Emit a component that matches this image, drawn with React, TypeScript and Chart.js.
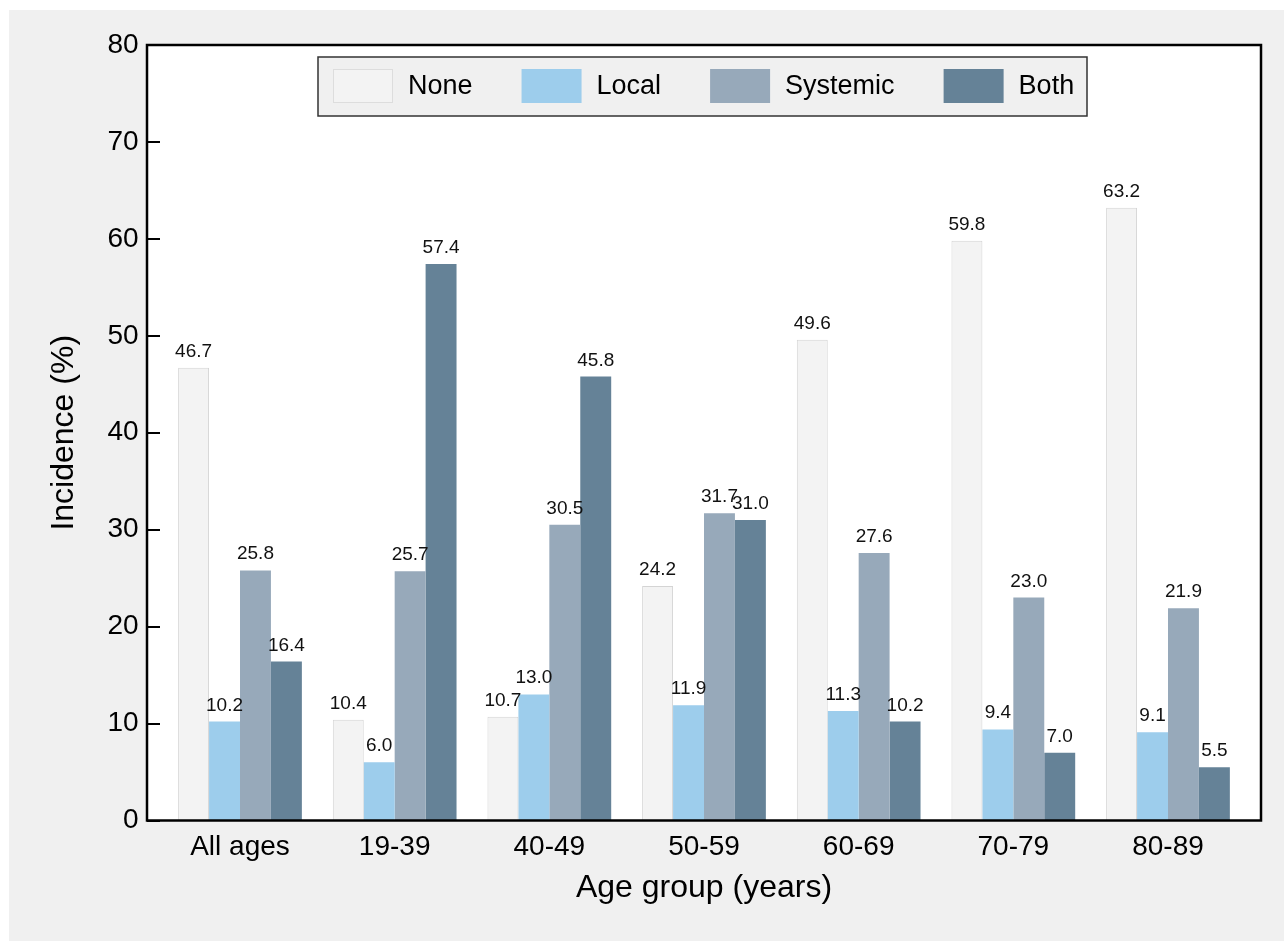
import React, { useEffect, useRef } from "react";
import { Chart, registerables } from "chart.js";

Chart.register(...registerables);

const categories = ["All ages", "19-39", "40-49", "50-59", "60-69", "70-79", "80-89"];
const seriesNames = ["None", "Local", "Systemic", "Both"];
const noneValues = [46.7, 10.4, 10.7, 24.2, 49.6, 59.8, 63.2];
const localValues = [10.2, 6.0, 13.0, 11.9, 11.3, 9.4, 9.1];
const systemicValues = [25.8, 25.7, 30.5, 31.7, 27.6, 23.0, 21.9];
const bothValues = [16.4, 57.4, 45.8, 31.0, 10.2, 7.0, 5.5];
const yTickValues = [0, 10, 20, 30, 40, 50, 60, 70, 80];
const seriesColors = ["#f3f3f3", "#9dcdec", "#97a9ba", "#658297"];
const seriesBorders = ["#d4d4d4", "#9dcdec", "#97a9ba", "#658297"];

const FONT = "'Liberation Sans', Arial, sans-serif";
const FRAME_PAD = 15.67;

const framePlugin = {
  id: "framePlugin",
  beforeDraw(chart: any) {
    const { ctx, chartArea } = chart;
    ctx.save();
    ctx.fillStyle = "#f0f0f0";
    ctx.fillRect(0, 0, chart.width, chart.height);
    ctx.fillStyle = "#ffffff";
    ctx.fillRect(
      chartArea.left - FRAME_PAD,
      chartArea.top,
      chartArea.right - chartArea.left + 2 * FRAME_PAD,
      chartArea.bottom - chartArea.top
    );
    ctx.restore();
  },
  afterDatasetsDraw(chart: any) {
    const { ctx, chartArea } = chart;
    ctx.save();
    // data labels
    ctx.font = `19px ${FONT}`;
    ctx.fillStyle = "#111";
    ctx.textAlign = "center";
    ctx.textBaseline = "alphabetic";
    chart.data.datasets.forEach((ds: any, di: number) => {
      const meta = chart.getDatasetMeta(di);
      meta.data.forEach((bar: any, i: number) => {
        const v = ds.data[i];
        ctx.fillText(Number(v).toFixed(1), bar.x, bar.y - 11);
      });
    });
    // y ticks (inward)
    const yScale = chart.scales.y;
    const fl = chartArea.left - FRAME_PAD;
    const fr = chartArea.right + FRAME_PAD;
    ctx.strokeStyle = "#000";
    ctx.lineWidth = 2;
    yTickValues.forEach((v) => {
      const py = Math.round(yScale.getPixelForValue(v));
      ctx.beginPath();
      ctx.moveTo(fl, py);
      ctx.lineTo(fl + 13, py);
      ctx.stroke();
    });
    // frame
    ctx.lineWidth = 2.5;
    ctx.strokeRect(fl, chartArea.top, fr - fl, chartArea.bottom - chartArea.top);
    ctx.restore();
  },
  afterDraw(chart: any) {
    const { ctx } = chart;
    ctx.save();
    const bx = 309, by = 47, bw = 769, bh = 59;
    ctx.fillStyle = "#f0f0f0";
    ctx.fillRect(bx, by, bw, bh);
    ctx.strokeStyle = "#333333";
    ctx.lineWidth = 1.5;
    ctx.strokeRect(bx, by, bw, bh);
    ctx.font = `27px ${FONT}`;
    ctx.textAlign = "left";
    ctx.textBaseline = "middle";
    let x = 324;
    chart.data.datasets.forEach((ds: any) => {
      ctx.fillStyle = ds.backgroundColor;
      ctx.fillRect(x, 59, 60, 34);
      if (ds.label === "None") {
        ctx.strokeStyle = "#dddddd";
        ctx.lineWidth = 1;
        ctx.strokeRect(x + 0.5, 59.5, 59, 33);
      }
      ctx.fillStyle = "#000";
      ctx.fillText(ds.label, x + 75, 77);
      const w = ctx.measureText(ds.label).width;
      x += 75 + w + 49;
    });
    ctx.restore();
  },
};

export default function App() {
  const ref = useRef<HTMLCanvasElement | null>(null);
  useEffect(() => {
    if (!ref.current) return;
    Chart.defaults.font.family = FONT;
    const seriesValues = [noneValues, localValues, systemicValues, bothValues];
    const chart = new Chart(ref.current, {
      type: "bar",
      data: {
        labels: categories,
        datasets: seriesNames.map((name, i) => ({
          label: name,
          data: seriesValues[i],
          backgroundColor: seriesColors[i],
          borderColor: seriesBorders[i],
          borderWidth: i === 0 ? 1 : 0,
          categoryPercentage: 0.8,
          barPercentage: 1.0,
        })),
      },
      options: {
        responsive: false,
        animation: false,
        layout: { padding: { top: 35, right: 38.67, left: 0, bottom: 0 } },
        plugins: {
          legend: { display: false },
          tooltip: { enabled: false },
        },
        scales: {
          x: {
            grid: { display: false, drawTicks: false },
            border: { display: false },
            ticks: { font: { size: 28, family: FONT }, color: "#000", padding: 10 },
            title: {
              display: true,
              text: "Age group (years)",
              font: { size: 32, family: FONT },
              color: "#000",
              padding: { top: 0, bottom: 34 },
            },
            afterFit: (scale: any) => {
              scale.height = 120.5;
              scale.paddingLeft = 0;
              scale.paddingRight = 0;
            },
          },
          y: {
            min: 0,
            max: 80,
            grid: { display: false, drawTicks: false },
            border: { display: false },
            ticks: {
              stepSize: 10,
              font: { size: 28, family: FONT },
              color: "#000",
              padding: 24,
            },
            title: {
              display: true,
              text: "Incidence (%)",
              font: { size: 32, family: FONT },
              color: "#000",
              padding: { top: 36, bottom: 0 },
            },
            afterFit: (scale: any) => {
              scale.width = 153.67;
              scale.paddingTop = 0;
              scale.paddingBottom = 0;
            },
          },
        },
      },
      plugins: [framePlugin],
    } as any);
    return () => chart.destroy();
  }, []);
  return (
    <div style={{ position: "absolute", left: 9, top: 10, width: 1275, height: 931, background: "#f0f0f0" }}>
      <canvas ref={ref} width={1275} height={931} style={{ display: "block" }} />
    </div>
  );
}
